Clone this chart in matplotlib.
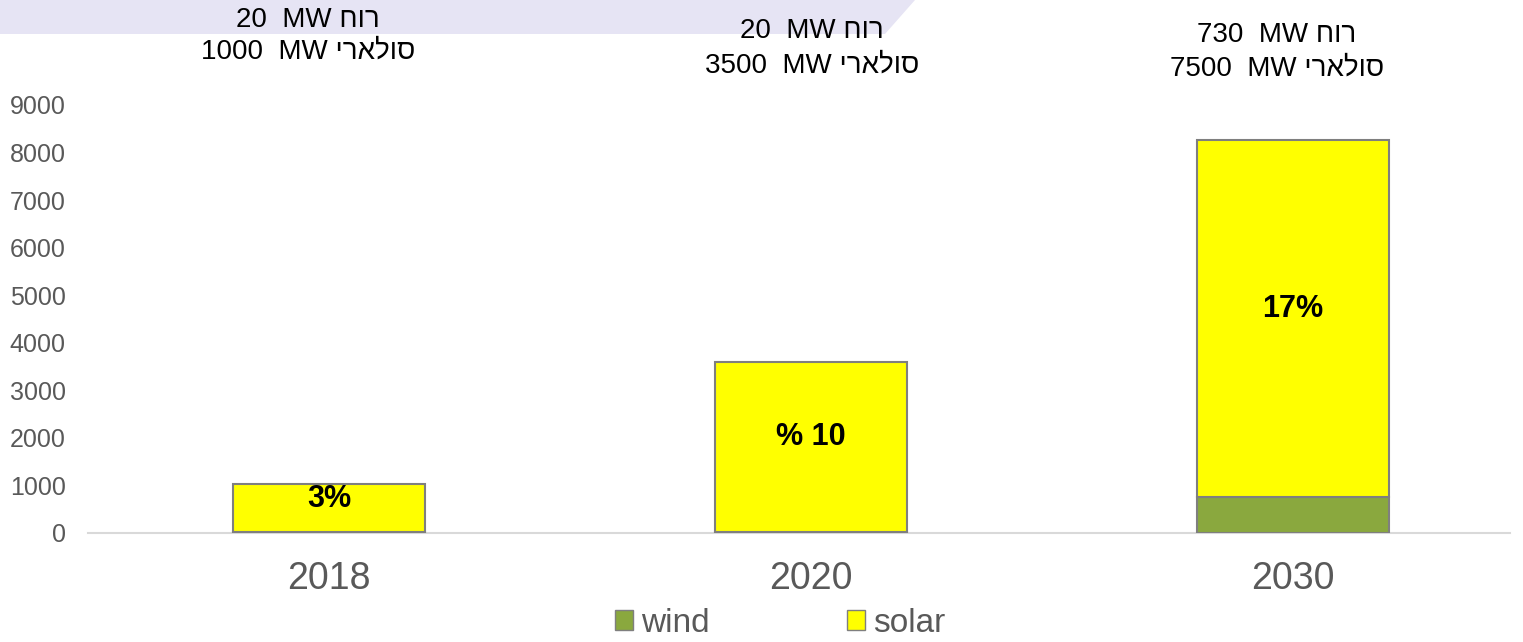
import matplotlib
matplotlib.use('Agg')
import matplotlib.pyplot as plt
from matplotlib.patches import Polygon, Patch
import numpy as np

plt.rcParams['font.family'] = ['Liberation Sans', 'DejaVu Sans']

# Daten
years = ['2018', '2020', '2030']
wind = [20, 20, 760]
solar = [1000, 3580, 7500]
shares = ['3%', '% 10', '17%']
wind_mw = ['20', '20', '730']
solar_mw = ['1000', '3500', '7500']
yticks = [0, 1000, 2000, 3000, 4000, 5000, 6000, 7000, 8000, 9000]

WIND_HE = 'רוח'
SOLAR_HE = 'סולארי'

def visual(s):
    # matplotlib hat kein Bidi -> hebräischen Text für die Anzeige umdrehen
    return s[::-1]

W, H = 1523, 642
fig = plt.figure(figsize=(W / 100, H / 100), dpi=100)

# Hintergrundform oben links
bg = Polygon([[0, 1], [915 / W, 1], [885 / W, 1 - 34 / H], [0, 1 - 34 / H]],
             closed=True, transform=fig.transFigure, facecolor='#E6E4F4',
             edgecolor='none', zorder=0)
fig.patches.append(bg)

ax = fig.add_axes([88 / W, 1 - 533 / H, (1510 - 88) / W, (533 - 105) / H])
ax.set_facecolor('none')

x = np.arange(len(years))
bw = 0.4
ax.bar(x, wind, bw, color='#8AA83E', edgecolor='#7F7F7F', linewidth=1.5, zorder=3)
ax.bar(x, solar, bw, bottom=wind, color='#FFFF00', edgecolor='#7F7F7F', linewidth=1.5, zorder=3)

for i in range(len(years)):
    ax.text(x[i], wind[i] + solar[i] / 2 + 200, shares[i], ha='center', va='center',
            fontsize=22, fontweight='bold', color='black', zorder=4)

ax.set_xlim(-0.5, 2.45)
ax.set_ylim(0, 9000)
ax.set_yticks(yticks)
ax.set_xticks(x)
ax.set_xticklabels(years)
ax.tick_params(axis='y', length=0, pad=16, labelsize=18, labelcolor='#595959')
ax.tick_params(axis='x', length=0, pad=20, labelsize=27, labelcolor='#595959')
for s in ['top', 'right', 'left']:
    ax.spines[s].set_visible(False)
ax.spines['bottom'].set_color('#D9D9D9')
ax.spines['bottom'].set_linewidth(1.5)

# Kopftexte über den Balken
hdr_pos = [(308, 20, 52), (812, 31, 66), (1277, 35, 69)]
for i, (hx, y1, y2) in enumerate(hdr_pos):
    fig.text(hx / W, 1 - y1 / H, f'{wind_mw[i]}  MW {visual(WIND_HE)}',
             ha='center', va='center', fontsize=20, color='black')
    fig.text(hx / W, 1 - y2 / H, f'{solar_mw[i]}  MW {visual(SOLAR_HE)}',
             ha='center', va='center', fontsize=20, color='black')

# Legende
handles = [Patch(facecolor='#8AA83E', edgecolor='#7F7F7F'),
           Patch(facecolor='#FFFF00', edgecolor='#7F7F7F')]
fig.legend(handles, ['wind', 'solar'], loc='center', bbox_to_anchor=(780 / W, 1 - 623 / H),
           ncol=2, frameon=False, fontsize=24, labelcolor='#595959',
           handlelength=0.55, handleheight=0.55, handletextpad=0.25, columnspacing=4.1,
           borderpad=0, borderaxespad=0)

fig.savefig('out.png', dpi=100)
